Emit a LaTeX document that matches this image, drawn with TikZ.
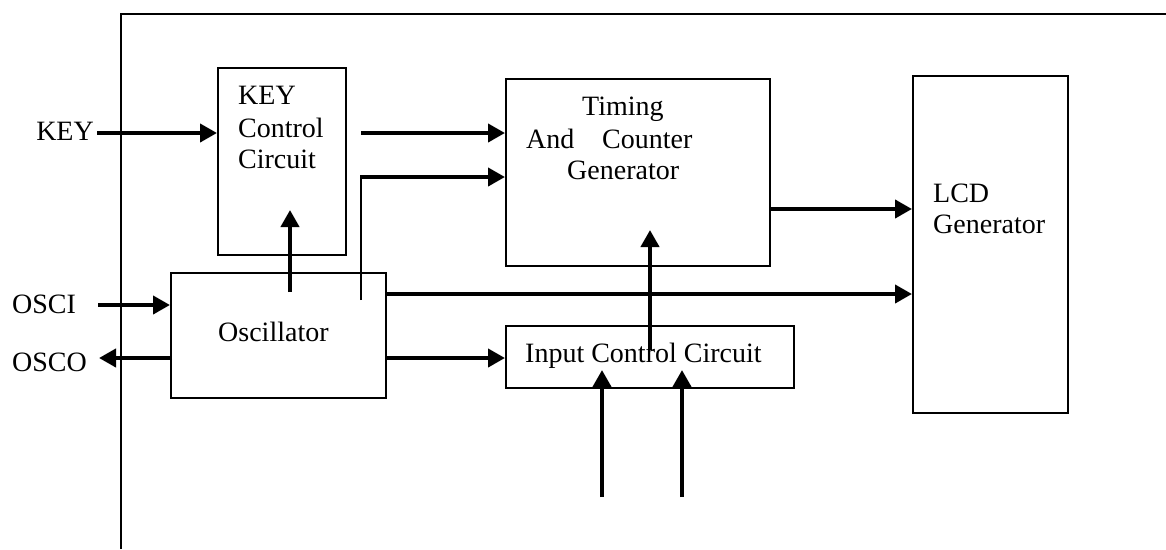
\documentclass[tikz,border=0pt]{standalone}
\usepackage{fontspec}
\setmainfont{Liberation Serif}
\usetikzlibrary{arrows.meta}
\begin{document}
\begin{tikzpicture}[x=1pt,y=-1pt,
  box/.style={draw,line width=2pt,inner sep=0pt,anchor=north west},
  txt/.style={inner sep=0pt,anchor=base west,font=\fontsize{28}{32}\selectfont},
  arr/.style={line width=4pt,-{Triangle[length=17pt,width=18pt]}},
  thinwire/.style={line width=2pt},
  frame/.style={line width=2pt}]
\useasboundingbox (0,0) rectangle (1166,549);
% outer frame
\coordinate (fb) at (121,549);
\coordinate (ftl) at (121,14);
\coordinate (fr) at (1166,14);
\draw[frame] (fb) -- (ftl) -- (fr);
% boxes
\node[box,minimum width=128pt,minimum height=187pt] (keybox) at (217,67) {};
\node[box,minimum width=264pt,minimum height=187pt] (tcg) at (505,78) {};
\node[box,minimum width=155pt,minimum height=337pt] (lcd) at (912,75) {};
\node[box,minimum width=215pt,minimum height=125pt] (osc) at (170,272) {};
\node[box,minimum width=288pt,minimum height=62pt] (icc) at (505,325) {};
% texts
\node[txt] (t1) at (238,104) {KEY};
\node[txt] (t2) at (238,137) {Control};
\node[txt] (t3) at (238,168) {Circuit};
\node[txt] (t4) at (582,115) {Timing};
\node[txt] (t5) at (526,148) {And};
\node[txt] (t6) at (602,148) {Counter};
\node[txt] (t7) at (567,179) {Generator};
\node[txt] (t8) at (933,202) {LCD};
\node[txt] (t9) at (933,233) {Generator};
\node[txt] (t10) at (218,341) {Oscillator};
\node[txt] (t11) at (525,362) {Input Control Circuit};
\node[txt,anchor=base east] (lkey) at (94,140) {KEY};
\node[txt] (losci) at (12,313) {OSCI};
\node[txt] (losco) at (12,371) {OSCO};
% connectors
\coordinate (keyin) at (97,133);
\draw[arr] (keyin) -- (keyin -| keybox.west);
\coordinate (k2t) at (361,133);
\draw[arr] (k2t) -- (k2t -| tcg.west);
\coordinate (wbot) at (361,300);
\coordinate (wtop) at (361,177);
\draw[thinwire] (wbot) -- ([yshift=-1pt]wtop);
\draw[arr] ([xshift=-1pt]wtop) -- (wtop -| tcg.west);
\coordinate (y209) at (0,209);
\draw[arr] (tcg.east |- y209) -- (lcd.west |- y209);
\coordinate (y294) at (0,294);
\draw[arr] (osc.east |- y294) -- (lcd.west |- y294);
\coordinate (y358) at (0,358);
\draw[arr] (osc.east |- y358) -- (icc.west |- y358);
\coordinate (oscup) at (290,292);
\coordinate (oscupend) at (290,210);
\draw[arr] (oscup) -- (oscupend);
\coordinate (iccup) at (650,350);
\coordinate (iccupend) at (650,230);
\draw[arr] (iccup) -- (iccupend);
\coordinate (ina) at (602,497);
\coordinate (inaend) at (602,370);
\draw[arr] (ina) -- (inaend);
\coordinate (inb) at (682,497);
\coordinate (inbend) at (682,370);
\draw[arr] (inb) -- (inbend);
\coordinate (osciin) at (98,305);
\draw[arr] (osciin) -- (osciin -| osc.west);
\coordinate (oscostart) at (172,358);
\coordinate (oscoend) at (99,358);
\draw[arr] (oscostart) -- (oscoend);
\end{tikzpicture}
\end{document}
